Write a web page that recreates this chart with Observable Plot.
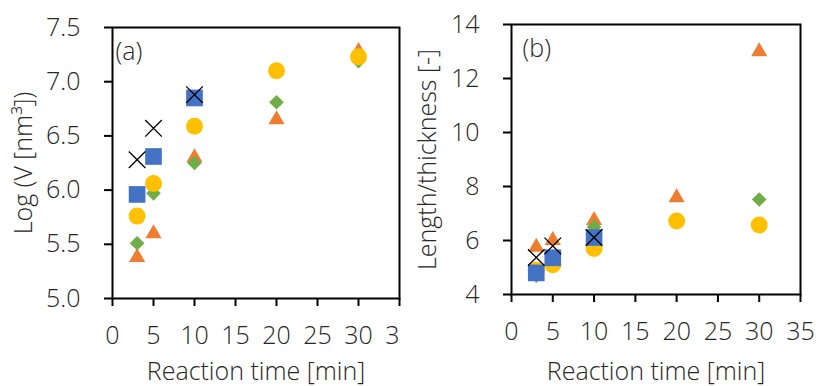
<!DOCTYPE html>
<html><head><meta charset="utf-8">
<script src="https://cdn.jsdelivr.net/npm/d3@7"></script>
<script src="https://cdn.jsdelivr.net/npm/@observablehq/plot@0.6"></script>
<style>
body{margin:0;background:#fff}
#wrap{position:relative;width:816px;height:386px;overflow:hidden;background:#fff}
#wrap svg{position:absolute;top:0;overflow:hidden}
</style></head><body><div id="wrap"></div>
<script>
// x values (reaction time, min)
const times = [3, 5, 10, 20, 30];
const timesShort = [3, 5, 10];
const xTicks = [0, 5, 10, 15, 20, 25, 30, 35];

// Panel (a): Log(V [nm^3])
const aTriangle = [5.38, 5.60, 6.30, 6.65, 7.28];
const aDiamond  = [5.51, 5.97, 6.25, 6.81, 7.19];
const aCircle   = [5.76, 6.06, 6.59, 7.10, 7.23];
const aSquare   = [5.96, 6.31, 6.85];
const aCross    = [6.28, 6.57, 6.88];
const yTicksA = [5.0, 5.5, 6.0, 6.5, 7.0, 7.5];

// Panel (b): Length/thickness [-]
const bTriangle = [5.76, 6.01, 6.75, 7.59, 13.0];
const bDiamond  = [4.70, 5.40, 6.50, 6.70, 7.52];
const bCircle   = [4.90, 5.10, 5.70, 6.72, 6.57];
const bSquare   = [4.80, 5.36, 6.11];
const bCross    = [5.37, 5.80, 6.11];
const yTicksB = [4, 6, 8, 10, 12, 14];

const FONT = "'Open Sans', sans-serif";
const TXT = "#262626";

function rows(xs, ys) { return xs.map((x, i) => ({x, y: ys[i]})); }

function panel(o) {
  const s = o.series;
  return Plot.plot({
    width: o.width, height: 386,
    marginLeft: o.ml, marginRight: o.mr, marginTop: o.mt, marginBottom: o.mb,
    style: {fontFamily: FONT, fontSize: "25px", fontWeight: 300, color: TXT, overflow: "hidden", background: "white"},
    x: {domain: [0, 35], ticks: xTicks},
    y: {domain: o.yDomain, ticks: o.yTicks},
    marks: [
      Plot.dot(rows(times, s.tri), {x: "x", y: "y", symbol: "triangle", r: 6, fill: "#ED7D31"}),
      Plot.dot(rows(times, s.dia), {x: "x", y: "y", symbol: "diamond2", r: 6.6, fill: "#70AD47"}),
      Plot.dot(rows(times, s.cir), {x: "x", y: "y", symbol: "circle", r: 8.5, fill: "#FFC000"}),
      Plot.dot(rows(timesShort, s.sq), {x: "x", y: "y", symbol: "square", r: 9.4, fill: "#4472C4"}),
      Plot.dot(rows(timesShort, s.cr), {x: "x", y: "y", symbol: "times", r: 7.6, stroke: "black", strokeWidth: 1.3}),
      Plot.frame({stroke: "black", strokeWidth: 2}),
      Plot.axisX({ticks: xTicks, tickSize: 8, tickPadding: 20, strokeWidth: 2, stroke: "black",
        label: "Reaction time [min]", labelAnchor: "center", labelArrow: "none", labelOffset: o.mb - 7}),
      Plot.axisY({ticks: o.yTicks, tickSize: 8, tickPadding: 24, strokeWidth: 2, stroke: "black",
        tickFormat: o.yFormat, label: o.yLabel, labelAnchor: "center", labelArrow: "none", labelOffset: o.yLabelOffset}),
      Plot.text([o.tag], {frameAnchor: "top-left", dx: o.tagDx, dy: 15, textAnchor: "start", lineAnchor: "top", fill: TXT})
    ]
  });
}

const left = panel({
  width: 401, ml: 112, mr: 2, mt: 27, mb: 88,
  yDomain: [5.0, 7.5], yTicks: yTicksA, yFormat: d3.format(".1f"),
  yLabel: "Log (V [nm³])", yLabelOffset: 98, tag: "(a)", tagDx: 3,
  series: {tri: aTriangle, dia: aDiamond, cir: aCircle, sq: aSquare, cr: aCross}
});
const right = panel({
  width: 415, ml: 110, mr: 16, mt: 24, mb: 92,
  yDomain: [4, 14], yTicks: yTicksB, yFormat: d3.format("d"),
  yLabel: "Length/thickness [-]", yLabelOffset: 93, tag: "(b)", tagDx: 11,
  series: {tri: bTriangle, dia: bDiamond, cir: bCircle, sq: bSquare, cr: bCross}
});
left.style.left = "0px";
right.style.left = "401px";
const wrap = document.getElementById("wrap");
wrap.appendChild(left);
wrap.appendChild(right);
</script>
</body></html>
